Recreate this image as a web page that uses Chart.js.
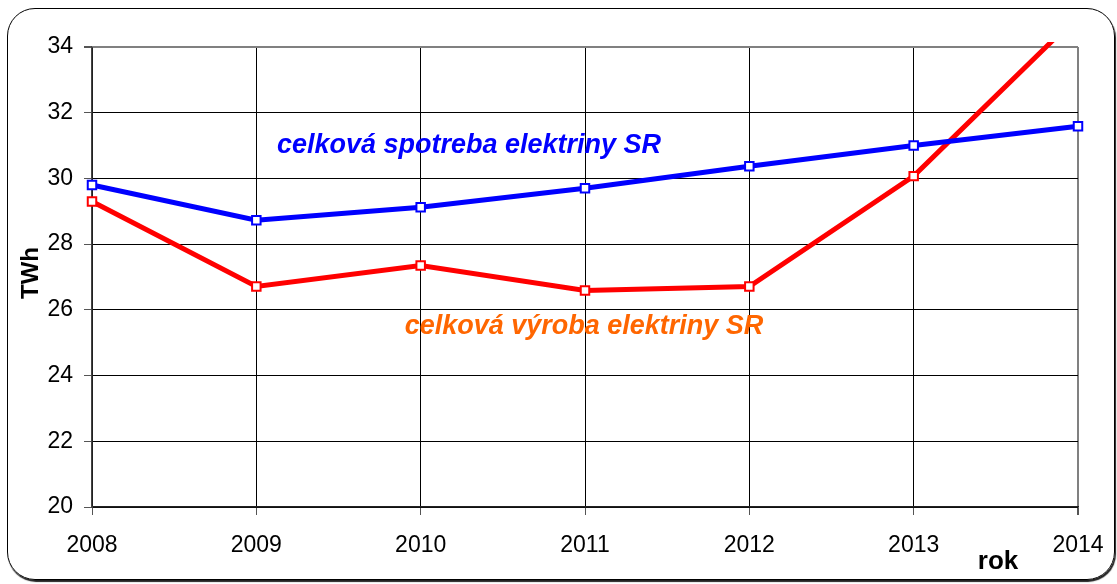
<!DOCTYPE html>
<html>
<head>
<meta charset="utf-8">
<script src="https://cdn.jsdelivr.net/npm/chart.js@4/dist/chart.umd.min.js"></script>
<style>
  html, body { margin: 0; padding: 0; background: #fff; }
  #wrap { position: relative; width: 1117px; height: 584px; }
  #frame { position: absolute; left: 7px; top: 8px; width: 1106px; height: 570px;
           border: 1.5px solid #000; border-radius: 28px; box-shadow: 1px 2px 1px #222; }
  canvas { position: absolute; left: 0; top: 0; }
</style>
</head>
<body>
<div id="wrap">
  <div id="frame"></div>
  <canvas id="myChart" width="1117" height="584"></canvas>
</div>
<script>
// values
const years = ['2008', '2009', '2010', '2011', '2012', '2013', '2014'];
const spotreba = [29.8, 28.73, 29.12, 29.7, 30.37, 31.0, 31.59];
const vyroba = [29.3, 26.71, 27.35, 26.59, 26.71, 30.07, 34.95];
const yTicks = [20, 22, 24, 26, 28, 30, 32, 34];

const font = 'Liberation Sans, Arial, sans-serif';

// titles and the two annotations
const textPlugin = {
  id: 'texts',
  afterDraw(chart) {
    const ctx = chart.ctx;
    ctx.save();
    ctx.textAlign = 'center';
    ctx.textBaseline = 'middle';

    ctx.font = 'italic bold 27px ' + font;
    ctx.fillStyle = '#0000FF';
    ctx.fillText('celková spotreba elektriny SR', 469, 146);
    ctx.fillStyle = '#FF6600';
    ctx.fillText('celková výroba elektriny SR', 584, 327);

    ctx.fillStyle = '#000';
    ctx.font = 'bold 26px ' + font;
    ctx.fillText('rok', 998, 562);
    ctx.font = 'bold 24px ' + font;
    ctx.translate(31, 273);
    ctx.rotate(-Math.PI / 2);
    ctx.fillText('TWh', 0, 0);
    ctx.restore();
  }
};

const ctx = document.getElementById('myChart').getContext('2d');
new Chart(ctx, {
  type: 'line',
  data: {
    labels: years,
    datasets: [{
      data: spotreba,
      borderColor: '#0000FF',
      backgroundColor: '#fff',
      borderWidth: 5,
      pointStyle: 'rect',
      pointRadius: 6,
      pointBorderWidth: 2,
      pointBackgroundColor: '#fff',
      pointBorderColor: '#0000FF',
      tension: 0
    }, {
      data: vyroba,
      borderColor: '#FF0000',
      backgroundColor: '#fff',
      borderWidth: 5,
      pointStyle: 'rect',
      pointRadius: 6,
      pointBorderWidth: 2,
      pointBackgroundColor: '#fff',
      pointBorderColor: '#FF0000',
      tension: 0,
      clip: { left: 10, right: 10, top: 5, bottom: 10 }
    }]
  },
  options: {
    responsive: false,
    animation: false,
    layout: { padding: { left: 0, top: 47, right: 39, bottom: 0 } },
    plugins: { legend: { display: false }, tooltip: { enabled: false } },
    scales: {
      x: {
        type: 'category',
        offset: false,
        afterFit(s) { s.height = 77; s.paddingLeft = 0; s.paddingRight = 0; },
        grid: {
          color: c => c.index === years.length - 1 ? '#808080' : '#000',
          lineWidth: c => c.index === years.length - 1 ? 2 : 1,
          tickLength: 8,
          tickColor: '#555'
        },
        border: { color: '#222', width: 1.5 },
        ticks: { color: '#000', font: { family: font, size: 23 }, padding: 17, maxRotation: 0 }
      },
      y: {
        min: 20,
        max: 34,
        afterFit(s) { s.width = 92; s.paddingTop = 0; s.paddingBottom = 0; },
        afterBuildTicks(s) { s.ticks = yTicks.map(v => ({ value: v })); },
        grid: {
          color: c => c.tick && c.tick.value === 34 ? '#808080' : '#000',
          lineWidth: c => c.tick && c.tick.value === 34 ? 2 : 1,
          tickLength: 8,
          tickColor: '#555'
        },
        border: { color: '#444', width: 1.5 },
        ticks: { color: '#000', font: { family: font, size: 23 }, padding: 11 }
      }
    }
  },
  plugins: [textPlugin]
});
</script>
</body>
</html>
